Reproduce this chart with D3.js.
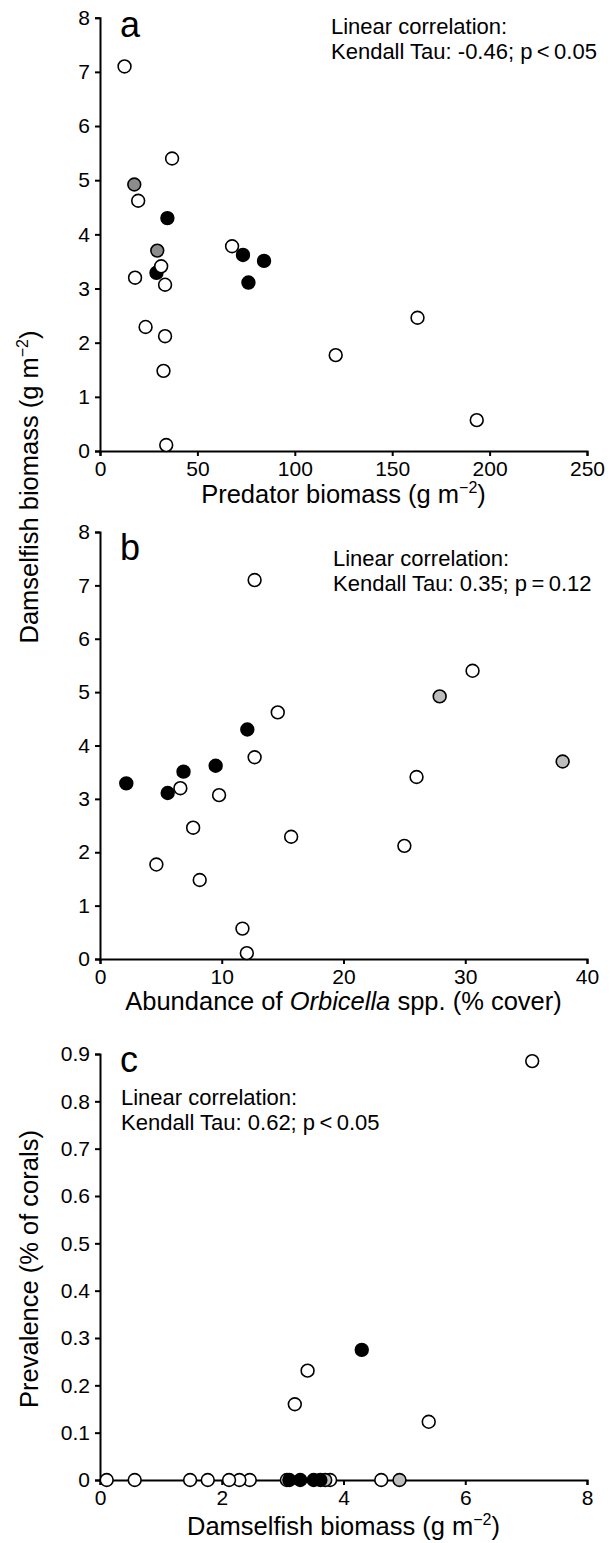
<!DOCTYPE html>
<html>
<head>
<meta charset="utf-8">
<script src="https://cdn.jsdelivr.net/npm/d3@7"></script>
<style>
  html, body { margin: 0; padding: 0; background: #fff; }
  svg { display: block; }
  text { font-family: "Liberation Sans", Arial, Helvetica, sans-serif; fill: #000; }
</style>
</head>
<body>
<svg id="chart" width="611" height="1543"></svg>
<script>
// ---- data (one entry per site, drawn in this order) ----
const damselBiomass   = [7.10, 5.40, 4.92, 4.62, 3.78, 3.70, 3.07, 3.11, 3.62, 3.51, 3.29, 4.30, 3.41, 3.20, 2.46, 2.29, 2.12, 1.77, 1.48, 0.57, 0.11];
const predatorBiomass = [12.6, 37.0, 17.6, 19.6, 67.8, 29.4, 33.4, 76.2, 73.4, 84.2, 29.0, 34.6, 31.4, 18.0, 163.0, 23.4, 33.4, 121.0, 32.6, 193.4, 34.0];
const orbicellaCover  = [12.7, 30.6, 27.9, 14.6, 12.7, 38.0, 9.78, 5.56, 9.5, 6.86, 2.16, 12.1, 26.0, 6.6, 7.65, 15.7, 25.0, 4.63, 8.19, 11.7, 12.06];
const prevalence      = [0.885, 0.123, 0, 0, 0, 0, 0, 0, 0, 0, 0, 0.275, 0.231, 0.160, 0, 0, 0, 0, 0, 0, 0];
const siteGroup       = ["open","open","gray","open","open","gray","open","black","black","black","black","black","open","open","open","open","open","open","open","open","open"];

const xTicksA = [0, 50, 100, 150, 200, 250];
const xTicksB = [0, 10, 20, 30, 40];
const xTicksC = [0, 2, 4, 6, 8];
const yTicksAB = [0, 1, 2, 3, 4, 5, 6, 7, 8];
const yTicksC = [0, 0.1, 0.2, 0.3, 0.4, 0.5, 0.6, 0.7, 0.8, 0.9];
const yTickLabelsC = ["0", "0.1", "0.2", "0.3", "0.4", "0.5", "0.6", "0.7", "0.8", "0.9"];

const svg = d3.select("#chart");
const X0 = 100, X1 = 587;

function panel(cfg) {
  const g = svg.append("g");
  const x = d3.scaleLinear().domain(cfg.xDomain).range([X0, X1]);
  const y = d3.scaleLinear().domain(cfg.yDomain).range([cfg.yBottom, cfg.yTop]);

  const xAxis = g.append("g").attr("transform", `translate(0,${cfg.yBottom})`)
    .call(d3.axisBottom(x).tickValues(cfg.xTicks).tickSize(5).tickPadding(5).tickFormat(d3.format("d")));
  const yAxis = g.append("g").attr("transform", `translate(${X0},0)`)
    .call(d3.axisLeft(y).tickValues(cfg.yTicks).tickSize(5).tickPadding(5)
      .tickFormat(cfg.yLabels ? ((d, i) => cfg.yLabels[i]) : d3.format("d")));
  [xAxis, yAxis].forEach(a => {
    a.selectAll("path.domain").attr("stroke", "#000").attr("stroke-width", 2);
    a.selectAll(".tick line").attr("stroke", "#000").attr("stroke-width", 2);
    a.selectAll(".tick text").attr("font-size", 21).attr("font-family", '"Liberation Sans", Arial, sans-serif').attr("fill", "#000");
  });
  xAxis.selectAll(".tick text").attr("dy", "0.71em");

  const idx = d3.range(cfg.xs.length);
  g.append("g").selectAll("circle").data(idx).join("circle")
    .attr("cx", i => x(cfg.xs[i]))
    .attr("cy", i => y(cfg.ys[i]))
    .attr("r", 6.4)
    .attr("stroke", "#000")
    .attr("stroke-width", 1.6)
    .attr("fill", i => siteGroup[i] === "black" ? "#000" : siteGroup[i] === "gray" ? cfg.grayFill : "#fff");

  g.append("text").attr("x", 120).attr("y", cfg.letterY).attr("font-size", 36).text(cfg.letter);

  const ann = g.append("text").attr("font-size", 22);
  ann.append("tspan").attr("x", cfg.annX).attr("y", cfg.annY).text("Linear correlation:");
  ann.append("tspan").attr("x", cfg.annX).attr("y", cfg.annY + 25).text(cfg.annText);
  return { x, y };
}

panel({ xDomain: [0, 250], yDomain: [0, 8], yBottom: 451, yTop: 17.7,
  xTicks: xTicksA, yTicks: yTicksAB, xs: predatorBiomass, ys: damselBiomass,
  grayFill: "#8c8c8c", letter: "a", letterY: 37,
  annX: 331, annY: 34, annText: "Kendall Tau: -0.46; p\u2009<\u20090.05" });

panel({ xDomain: [0, 40], yDomain: [0, 8], yBottom: 959, yTop: 532,
  xTicks: xTicksB, yTicks: yTicksAB, xs: orbicellaCover, ys: damselBiomass,
  grayFill: "#bdbdbd", letter: "b", letterY: 560,
  annX: 333, annY: 566, annText: "Kendall Tau: 0.35; p\u2009=\u20090.12" });

panel({ xDomain: [0, 8], yDomain: [0, 0.9], yBottom: 1480, yTop: 1054,
  xTicks: xTicksC, yTicks: yTicksC, yLabels: yTickLabelsC, xs: damselBiomass, ys: prevalence,
  grayFill: "#bdbdbd", letter: "c", letterY: 1072,
  annX: 121, annY: 1105, annText: "Kendall Tau: 0.62; p\u2009<\u20090.05" });

// ---- axis titles ----
function titleWithSup(t, pre, sup, post) {
  t.append("tspan").text(pre);
  t.append("tspan").attr("font-size", 16).attr("dy", -10).text(sup);
  t.append("tspan").attr("dy", 10).text(post);
}
const FS = 25.5;
titleWithSup(svg.append("text").attr("x", 343.5).attr("y", 503).attr("text-anchor", "middle").attr("font-size", FS),
  "Predator biomass (g m", "\u22122", ")");

const tb = svg.append("text").attr("x", 343.5).attr("y", 1010).attr("text-anchor", "middle").attr("font-size", FS);
tb.append("tspan").text("Abundance of ");
tb.append("tspan").attr("font-style", "italic").text("Orbicella");
tb.append("tspan").text(" spp. (% cover)");

titleWithSup(svg.append("text").attr("x", 343.5).attr("y", 1535).attr("text-anchor", "middle").attr("font-size", FS),
  "Damselfish biomass (g m", "\u22122", ")");

titleWithSup(svg.append("text").attr("transform", "translate(38,487) rotate(-90)").attr("text-anchor", "middle").attr("font-size", FS),
  "Damselfish biomass (g m", "\u22122", ")");

svg.append("text").attr("transform", "translate(38,1269) rotate(-90)").attr("text-anchor", "middle").attr("font-size", FS)
  .text("Prevalence (% of corals)");
</script>
</body>
</html>
